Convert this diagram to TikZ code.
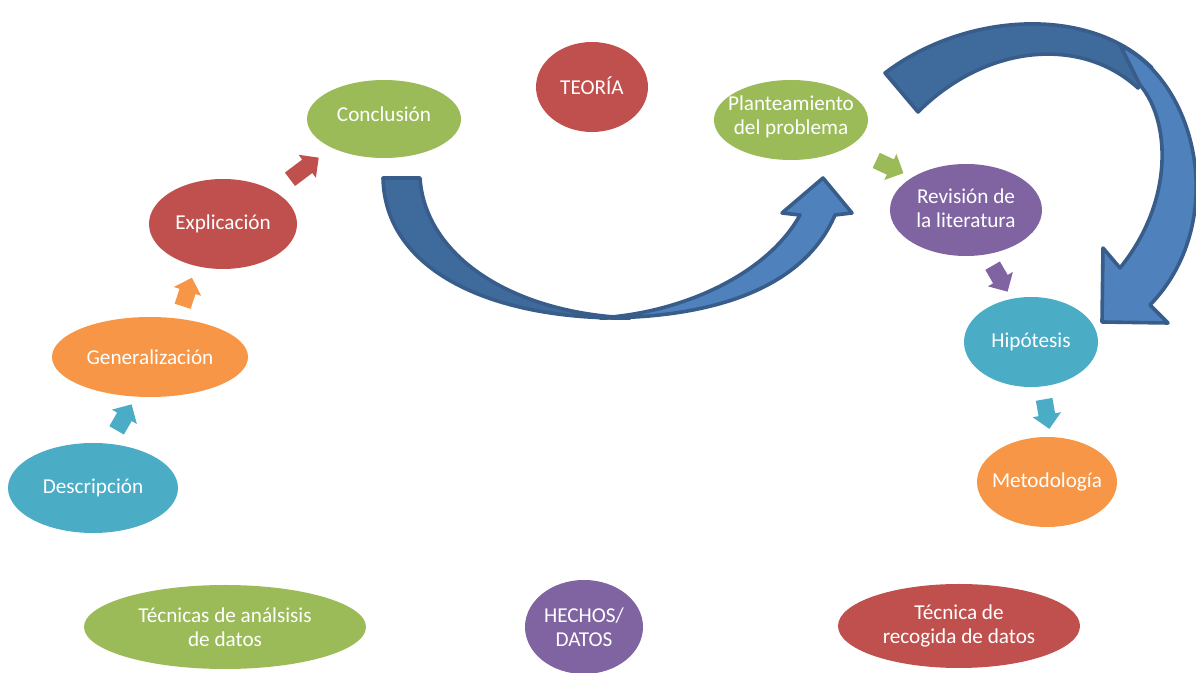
\documentclass[tikz,border=0pt]{standalone}
\usepackage{fontspec}
\setmainfont{Carlito}
\usetikzlibrary{shapes.geometric,shapes.arrows}
\definecolor{ogreen}{HTML}{9BBB59}
\definecolor{ored}{HTML}{C0504D}
\definecolor{oorange}{HTML}{F79646}
\definecolor{oaqua}{HTML}{4BACC6}
\definecolor{opurple}{HTML}{8064A2}
\definecolor{oblue}{HTML}{4F81BD}
\definecolor{odblue}{HTML}{3F6A9C}
\definecolor{oline}{HTML}{385D8A}
\begin{document}
\begin{tikzpicture}[x=0.5pt,y=-0.5pt,
  el/.style={ellipse, inner sep=0pt, draw=none},
  lbl/.style={text=white, font=\fontsize{10.6}{12}\selectfont, align=center},
  sarr/.style={single arrow, draw=none, inner sep=4pt, minimum height=15pt, single arrow head extend=3pt},
  bigarr/.style={draw=oline, line width=1.8pt, line join=round}]
\useasboundingbox (0,0) rectangle (1196,673);

% big curved arrows
\draw[bigarr, fill=oblue] (600,318) .. controls (720,318) and (805,285) .. (835,215)
  -- (852,213) -- (823,178) -- (782,213) -- (800,215)
  .. controls (770,270) and (690,312) .. (600,318) -- cycle;
\draw[bigarr, fill=odblue] (383,178) -- (420,178) .. controls (425,255) and (510,313) .. (630,318)
  .. controls (490,320) and (385,270) .. (383,178) -- cycle;

\draw[bigarr, fill=odblue] (885,73) .. controls (965,12) and (1090,5) .. (1152,68)
  -- (1138,88) .. controls (1080,35) and (985,45) .. (918,112) -- cycle;
\draw[bigarr, fill=oblue] (1120,45) .. controls (1200,85) and (1228,225) .. (1150,305)
  -- (1168,323) -- (1102,322) -- (1103,248) -- (1120,268)
  .. controls (1175,200) and (1170,120) .. (1140,85) -- cycle;

% ellipses
\node[el, fill=ogreen, minimum width=77pt, minimum height=39pt, label={[lbl, yshift=2.5pt]center:Conclusión}] (concl) at (384,119) {};
\node[el, fill=ored, minimum width=56pt, minimum height=45pt, label={[lbl, yshift=0.5pt]center:TEORÍA}] (teoria) at (592,87) {};
\node[el, fill=ogreen, minimum width=77pt, minimum height=40pt, label={[lbl, yshift=1.5pt]center:Planteamiento\\del problema}] (plan) at (791,120) {};
\node[el, fill=ored, minimum width=74pt, minimum height=45pt, label={[lbl]center:Explicación}] (expl) at (223,224) {};
\node[el, fill=oorange, minimum width=98pt, minimum height=40pt, label={[lbl]center:Generalización}] (gen) at (150,357) {};
\node[el, fill=oaqua, minimum width=85pt, minimum height=45pt, label={[lbl]center:Descripción}] (desc) at (93,488) {};
\node[el, fill=opurple, minimum width=76pt, minimum height=46pt, label={[lbl, yshift=1pt]center:Revisión de\\la literatura}] (rev) at (966,210) {};
\node[el, fill=oaqua, minimum width=67pt, minimum height=45pt, label={[lbl]center:Hipótesis}] (hip) at (1031,342) {};
\node[el, fill=oorange, minimum width=70pt, minimum height=45pt, label={[lbl]center:Metodología}] (met) at (1047,482) {};
\node[el, fill=ogreen, minimum width=141pt, minimum height=42pt, label={[lbl]center:Técnicas de análsisis\\de datos}] (tec) at (225,627) {};
\node[el, fill=opurple, minimum width=59pt, minimum height=47pt, label={[lbl]center:HECHOS/\\DATOS}] (hechos) at (584,627) {};
\node[el, fill=ored, minimum width=121pt, minimum height=42pt, label={[lbl]center:Técnica de\\recogida de datos}] (reco) at (959,626) {};

% small block arrows
\node[sarr, fill=oaqua, rotate=60] (a1) at (122,421) {};
\node[sarr, fill=oorange, rotate=72] (a2) at (186,296) {};
\node[sarr, fill=ored, rotate=37, minimum height=18pt] (a3) at (301,171) {};
\node[sarr, fill=ogreen, rotate=-25] (a4) at (886,165) {};
\node[sarr, fill=opurple, rotate=-60] (a5) at (998,275) {};
\node[sarr, fill=oaqua, rotate=-80] (a6) at (1046,410) {};
\end{tikzpicture}
\end{document}
